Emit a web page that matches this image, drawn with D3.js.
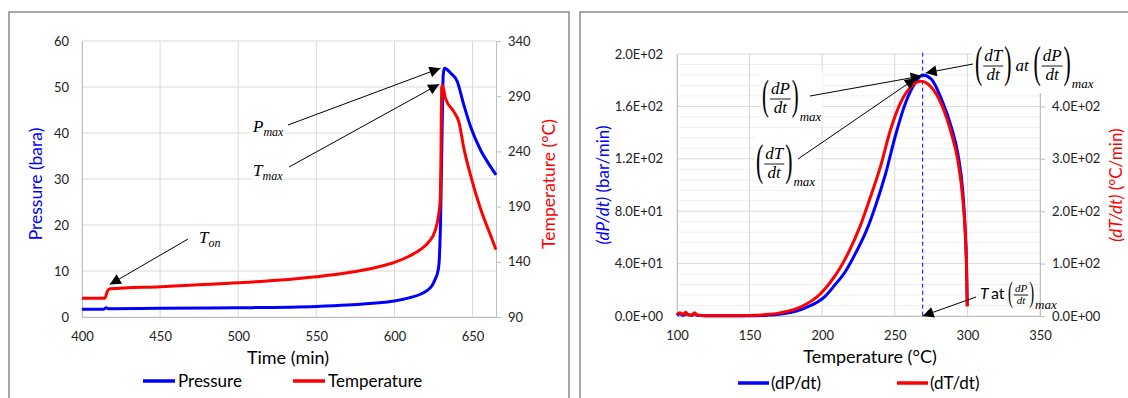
<!DOCTYPE html>
<html><head><meta charset="utf-8">
<script src="https://cdn.jsdelivr.net/npm/d3@7"></script>
<style>body{margin:0;background:#fff}svg{display:block}</style>
</head><body>
<svg id="c" width="1128" height="398"></svg>
<script>
// ---------- Left chart data (time in min) ----------
const timeP = [400, 414, 415.5, 417, 450, 500, 550, 570, 590, 600, 610, 617, 621, 624, 626.3, 627.5, 628.5, 629.5, 630.6, 631.2, 632, 636, 640.2, 644.4, 648.7, 655.1, 661.5, 665];
const pressure = [1.7, 1.7, 2.0, 1.8, 1.9, 2.0, 2.3, 2.6, 3.1, 3.5, 4.2, 5.0, 5.8, 6.8, 8.4, 9.5, 11.5, 20.7, 42.5, 52.6, 54.1, 53.0, 51.2, 46.1, 41.4, 36.3, 32.7, 30.9];
const timeT = [400, 414.5, 416.5, 418, 450, 500, 525, 550, 570, 590, 600, 610, 617, 622, 626, 628, 629.3, 629.8, 630.2, 630.6, 632.7, 638, 641.2, 644.4, 648.7, 655.1, 661.5, 665];
const temperature = [107, 107, 114, 115.5, 117.5, 121, 123.3, 126.5, 130, 135.5, 139.5, 145.5, 151.5, 158, 168, 180, 196, 240, 297, 300, 288, 276, 267, 243, 218.6, 188, 164, 151];
const timeTicks = [400, 450, 500, 550, 600, 650];
const pressureTicks = [0, 10, 20, 30, 40, 50, 60];
const tempTicks = [90, 140, 190, 240, 290, 340];
const pMax = {t: 632, v: 54.1};
const tMax = {t: 630.6, v: 300};
const tOn = {t: 416.5, v: 114};

// ---------- Right chart data (temperature in °C) ----------
const tempB = [100, 102, 104, 106, 110, 112, 115, 120, 150, 162, 175, 188, 202, 209, 216, 223, 230, 237, 243.5, 250.5, 257.5, 264, 269.2, 275, 282, 289, 293.4, 296.9, 298.5, 299.4, 299.9];
const dPdt = [0.5, 2, 0.5, 1.5, 0.5, 1.5, 0.3, 0.2, 0.2, 0.6, 2, 6, 15, 24, 34, 48, 64, 85, 108, 138, 163, 178, 184, 181, 166, 144, 124, 94, 66, 38, 8];
const tempR = [100, 102, 104, 106, 108, 110, 112, 114, 120, 140, 150, 160, 171, 185, 198.6, 205.5, 212.4, 219.3, 226.2, 233.1, 240, 247, 254, 261, 268, 275, 282, 289, 293.4, 296.9, 298.5, 299.4, 299.9];
const dTdt = [3, 6, 3, 7, 2, 2, 6, 2, 0.5, 0.5, 1, 2.5, 6, 17, 42, 64, 92, 128, 172, 226, 284, 355, 407, 437, 448, 437, 405, 348, 297, 221, 158, 94, 18];
const tempTicks2 = [100, 150, 200, 250, 300, 350];
const dPTicks = [0, 40, 80, 120, 160, 200];
const dPTickLabels = ["0.0E+00", "4.0E+01", "8.0E+01", "1.2E+02", "1.6E+02", "2.0E+02"];
const dTTicks = [0, 100, 200, 300, 400];
const dTTickLabels = ["0.0E+00", "1.0E+02", "2.0E+02", "3.0E+02", "4.0E+02"];
const dPmaxT = 269.2;
const dPmax = 184;
const dTmaxT = 268;
const dTmax = 448;

const FONT = "Lato, 'Open Sans', sans-serif";
const SERIF = "'Liberation Serif', 'DejaVu Serif', serif";
const BLUE = "#0000ff", RED = "#ff0000", GRID = "#d9d9d9", AX = "#bfbfbf";

const svg = d3.select("#c");

svg.append("defs").append("marker").attr("id", "ah").attr("viewBox", "0 0 10 10")
  .attr("refX", 10).attr("refY", 5).attr("markerWidth", 13).attr("markerHeight", 11)
  .attr("markerUnits", "userSpaceOnUse").attr("orient", "auto")
  .append("path").attr("d", "M0,0 L10,5 L0,10 z").attr("fill", "#000");

function arrow(g, x1, y1, x2, y2) {
  g.append("line").attr("x1", x1).attr("y1", y1).attr("x2", x2).attr("y2", y2)
    .attr("stroke", "#000").attr("stroke-width", 1).attr("marker-end", "url(#ah)");
}
function sym(g, x, y, main, sub, fs, subFs) {
  const t = g.append("text").attr("x", x).attr("y", y).attr("font-family", SERIF)
    .attr("font-style", "italic").attr("font-size", fs).attr("fill", "#000");
  t.append("tspan").text(main);
  t.append("tspan").attr("font-size", subFs).attr("dy", 4).text(sub);
  return t;
}
function paren(g, ch, x, yc, ph) {
  const pfs = ph / 0.92;
  const t = g.append("text").text(ch).attr("font-family", SERIF).attr("font-size", pfs)
    .attr("fill", "#000")
    .attr("transform", `translate(${x},${yc + ph / 2 - 0.21 * pfs}) scale(0.5,1)`);
  return t.node().getComputedTextLength() * 0.5;
}
function frac(g, x, yc, num, den, fs, ph) {
  let cx = x + paren(g, "(", x, yc, ph) + 1;
  const n = g.append("text").text(num).attr("font-family", SERIF).attr("font-style", "italic")
    .attr("font-size", fs).attr("text-anchor", "middle");
  const d = g.append("text").text(den).attr("font-family", SERIF).attr("font-style", "italic")
    .attr("font-size", fs).attr("text-anchor", "middle");
  const w = Math.max(n.node().getComputedTextLength(), d.node().getComputedTextLength()) + 2;
  const mid = cx + w / 2;
  n.attr("x", mid).attr("y", yc - 0.3 * fs);
  d.attr("x", mid).attr("y", yc + 0.82 * fs);
  g.append("line").attr("x1", cx).attr("x2", cx + w).attr("y1", yc).attr("y2", yc)
    .attr("stroke", "#000").attr("stroke-width", 0.9);
  cx += w + 1;
  cx += paren(g, ")", cx, yc, ph);
  return cx;
}
function subText(g, x, y, s, fs) {
  const t = g.append("text").text(s).attr("x", x).attr("y", y).attr("font-family", SERIF)
    .attr("font-style", "italic").attr("font-size", fs);
  return x + t.node().getComputedTextLength();
}
function whiteBg(g, pad) {
  const b = g.node().getBBox();
  g.insert("rect", ":first-child").attr("x", b.x - pad).attr("y", b.y - pad)
    .attr("width", b.width + 2 * pad).attr("height", b.height + 2 * pad).attr("fill", "#fff");
}

// ================= LEFT CHART =================
svg.append("rect").attr("x", 9).attr("y", 12).attr("width", 560).attr("height", 400)
  .attr("fill", "#fff").attr("stroke", "#8a8a8a").attr("stroke-width", 1.5);

const xL = d3.scaleLinear().domain([400, 665]).range([82, 496]);
const yP = d3.scaleLinear().domain([0, 60]).range([317, 41]);
const yT = d3.scaleLinear().domain([90, 340]).range([317, 41]);
const L = svg.append("g");

L.append("g").selectAll("line").data(timeTicks).join("line")
  .attr("x1", d => xL(d)).attr("x2", d => xL(d)).attr("y1", yP(60)).attr("y2", yP(0))
  .attr("stroke", GRID);
L.append("g").selectAll("line").data(pressureTicks).join("line")
  .attr("x1", xL(400)).attr("x2", xL(665)).attr("y1", d => yP(d)).attr("y2", d => yP(d))
  .attr("stroke", GRID);

const axL = d3.axisLeft(yP).tickValues(pressureTicks).tickSize(0).tickPadding(13);
const gaL = L.append("g").attr("transform", `translate(${xL(400)},0)`).call(axL);
const axB = d3.axisBottom(xL).tickValues(timeTicks).tickSize(0).tickPadding(15);
const gaB = L.append("g").attr("transform", `translate(0,${yP(0)})`).call(axB);
const axR = d3.axisRight(yT).tickValues(tempTicks).tickSize(5).tickPadding(7);
const gaR = L.append("g").attr("transform", `translate(${xL(665)},0)`).call(axR);
[gaL, gaB, gaR].forEach(g => {
  g.select(".domain").attr("stroke", AX);
  g.selectAll(".tick line").attr("stroke", AX);
  g.selectAll("text").attr("font-family", FONT).attr("font-size", 13).attr("fill", "#222");
});

const lineP = d3.line().x((d, i) => xL(timeP[i])).y(d => yP(d)).curve(d3.curveMonotoneX);
const lineT = d3.line().x((d, i) => xL(timeT[i])).y(d => yT(d)).curve(d3.curveMonotoneX);
L.append("path").attr("d", lineP(pressure)).attr("fill", "none").attr("stroke", BLUE).attr("stroke-width", 3);
L.append("path").attr("d", lineT(temperature)).attr("fill", "none").attr("stroke", RED).attr("stroke-width", 3);

L.append("text").text("Time (min)").attr("x", 288).attr("y", 364).attr("text-anchor", "middle")
  .attr("font-family", FONT).attr("font-size", 18).attr("fill", "#000");
L.append("text").text("Pressure (bara)").attr("transform", "translate(42,184) rotate(-90)")
  .attr("text-anchor", "middle").attr("font-family", FONT).attr("font-size", 17.5).attr("fill", BLUE);
L.append("text").text("Temperature (°C)").attr("transform", "translate(555,184) rotate(-90)")
  .attr("text-anchor", "middle").attr("font-family", FONT).attr("font-size", 17.5).attr("fill", RED);

L.append("line").attr("x1", 143).attr("x2", 175).attr("y1", 381).attr("y2", 381).attr("stroke", BLUE).attr("stroke-width", 3.5);
L.append("text").text("Pressure").attr("x", 178).attr("y", 387).attr("font-family", FONT).attr("font-size", 17);
L.append("line").attr("x1", 293).attr("x2", 325).attr("y1", 381).attr("y2", 381).attr("stroke", RED).attr("stroke-width", 3.5);
L.append("text").text("Temperature").attr("x", 328).attr("y", 387).attr("font-family", FONT).attr("font-size", 17);

const aP = L.append("g"); sym(aP, 253, 132, "P", "max", 17, 12); whiteBg(aP, 1);
arrow(L, 288, 125, xL(pMax.t) - 4, yP(pMax.v));
const aT = L.append("g"); sym(aT, 253, 176, "T", "max", 17, 12); whiteBg(aT, 1);
arrow(L, 289, 167, xL(tMax.t) - 3, yT(tMax.v) - 1);
const aOn = L.append("g"); sym(aOn, 199, 243, "T", "on", 17, 12); whiteBg(aOn, 1);
arrow(L, 188, 239, xL(tOn.t) + 2, yT(tOn.v) - 6);

// ================= RIGHT CHART =================
svg.append("rect").attr("x", 580).attr("y", 12).attr("width", 600).attr("height", 400)
  .attr("fill", "#fff").attr("stroke", "#8a8a8a").attr("stroke-width", 1.5);

const xR = d3.scaleLinear().domain([100, 350]).range([677, 1040]);
const yL2 = d3.scaleLinear().domain([0, 200]).range([316, 54]);
const yR2 = d3.scaleLinear().domain([0, 500]).range([316, 54]);
const R = svg.append("g");

const minor = d3.range(0, 201, 8).filter(v => v % 40 !== 0);
R.append("g").selectAll("line").data(minor).join("line")
  .attr("x1", xR(100)).attr("x2", xR(350)).attr("y1", d => yL2(d)).attr("y2", d => yL2(d))
  .attr("stroke", "#efefef");
R.append("g").selectAll("line").data(tempTicks2).join("line")
  .attr("x1", d => xR(d)).attr("x2", d => xR(d)).attr("y1", yL2(200)).attr("y2", yL2(0))
  .attr("stroke", GRID);
R.append("g").selectAll("line").data(dPTicks).join("line")
  .attr("x1", xR(100)).attr("x2", xR(350)).attr("y1", d => yL2(d)).attr("y2", d => yL2(d))
  .attr("stroke", GRID);

const axL2 = d3.axisLeft(yL2).tickValues(dPTicks).tickFormat((d, i) => dPTickLabels[i]).tickSize(0).tickPadding(14);
const g2L = R.append("g").attr("transform", `translate(${xR(100)},0)`).call(axL2);
const axB2 = d3.axisBottom(xR).tickValues(tempTicks2).tickSize(0).tickPadding(15);
const g2B = R.append("g").attr("transform", `translate(0,${yL2(0)})`).call(axB2);
const axR2 = d3.axisRight(yR2).tickValues(dTTicks).tickFormat((d, i) => dTTickLabels[i]).tickSize(5).tickPadding(7);
const g2R = R.append("g").attr("transform", `translate(${xR(350)},0)`).call(axR2);
[g2L, g2B, g2R].forEach(g => {
  g.select(".domain").attr("stroke", AX);
  g.selectAll(".tick line").attr("stroke", AX);
  g.selectAll("text").attr("font-family", FONT).attr("font-size", 13).attr("fill", "#222");
});

R.append("line").attr("x1", xR(dPmaxT)).attr("x2", xR(dPmaxT)).attr("y1", yL2(201)).attr("y2", yL2(0))
  .attr("stroke", BLUE).attr("stroke-width", 1).attr("stroke-dasharray", "4,3");

const lineB = d3.line().x((d, i) => xR(tempB[i])).y(d => yL2(d)).curve(d3.curveMonotoneX);
const lineR = d3.line().x((d, i) => xR(tempR[i])).y(d => yR2(d)).curve(d3.curveMonotoneX);
R.append("path").attr("d", lineB(dPdt)).attr("fill", "none").attr("stroke", BLUE).attr("stroke-width", 3);
R.append("path").attr("d", lineR(dTdt)).attr("fill", "none").attr("stroke", RED).attr("stroke-width", 3);

R.append("text").text("Temperature (°C)").attr("x", 870).attr("y", 363).attr("text-anchor", "middle")
  .attr("font-family", FONT).attr("font-size", 18);
const tl = R.append("text").attr("transform", "translate(609,185) rotate(-90)").attr("text-anchor", "middle")
  .attr("font-family", FONT).attr("font-size", 17).attr("fill", BLUE);
tl.append("tspan").attr("font-style", "italic").text("(dP/dt)");
tl.append("tspan").text(" (bar/min)");
const tr = R.append("text").attr("transform", "translate(1122,185) rotate(-90)").attr("text-anchor", "middle")
  .attr("font-family", FONT).attr("font-size", 17).attr("fill", RED);
tr.append("tspan").attr("font-style", "italic").text("(dT/dt)");
tr.append("tspan").text(" (°C/min)");

R.append("line").attr("x1", 738).attr("x2", 769).attr("y1", 383).attr("y2", 383).attr("stroke", BLUE).attr("stroke-width", 3.5);
R.append("text").text("(dP/dt)").attr("x", 771).attr("y", 389).attr("font-family", FONT).attr("font-size", 17);
R.append("line").attr("x1", 897).attr("x2", 928).attr("y1", 383).attr("y2", 383).attr("stroke", RED).attr("stroke-width", 3.5);
R.append("text").text("(dT/dt)").attr("x", 930).attr("y", 389).attr("font-family", FONT).attr("font-size", 17);

const a1 = R.append("g");
let e1 = frac(a1, 762, 99, "dP", "dt", 17, 38);
subText(a1, e1 + 1, 121, "max", 13);
whiteBg(a1, 1);
arrow(R, 810, 96, xR(dPmaxT) - 1, yL2(dPmax) + 1);

const a2 = R.append("g");
let e2 = frac(a2, 756, 164, "dT", "dt", 17, 40);
subText(a2, e2 + 1, 186, "max", 13);
whiteBg(a2, 1);
arrow(R, 798, 159, xR(dTmaxT) - 5, yR2(dTmax) - 3);

const a3 = R.append("g");
let e3 = frac(a3, 975, 66, "dT", "dt", 17, 40);
a3.append("text").text("at").attr("x", e3 + 4).attr("y", 71).attr("font-family", SERIF)
  .attr("font-style", "italic").attr("font-size", 17);
let e3b = frac(a3, e3 + 22, 66, "dP", "dt", 17, 40);
subText(a3, e3b + 1, 88, "max", 13);
whiteBg(a3, 2);
arrow(R, 973, 64, xR(dPmaxT) + 3, yL2(dPmax) - 2);

const a4 = R.append("g");
a4.append("text").text("T").attr("x", 980).attr("y", 299).attr("font-family", FONT)
  .attr("font-style", "italic").attr("font-size", 16);
a4.append("text").text("at").attr("x", 991).attr("y", 299).attr("font-family", FONT).attr("font-size", 16);
let e4 = frac(a4, 1008, 295, "dP", "dt", 11, 27);
subText(a4, e4 + 1, 309, "max", 13);
arrow(R, 976, 297, xR(dPmaxT), yL2(0));
</script>
</body></html>
